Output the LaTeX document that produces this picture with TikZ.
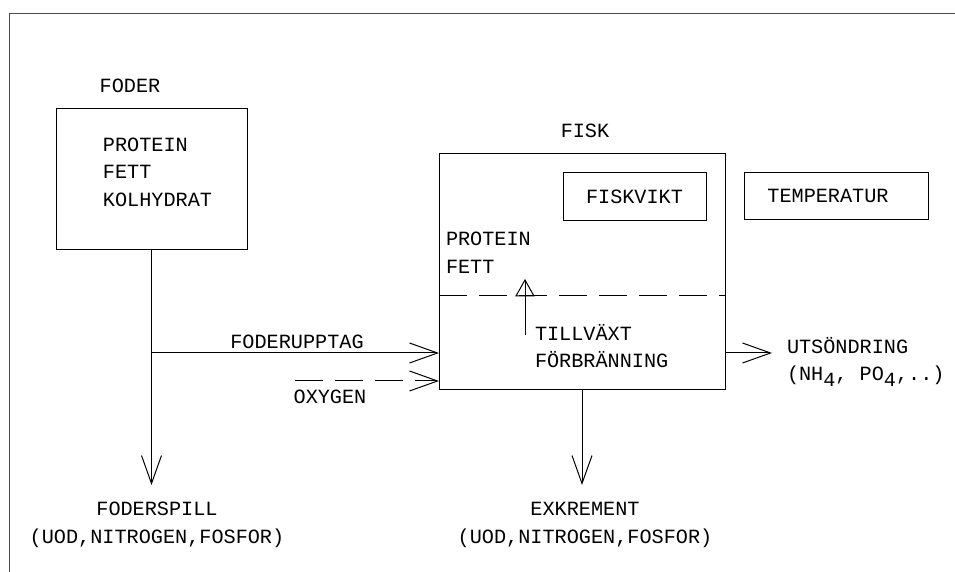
\documentclass[tikz,border=0pt]{standalone}
\usepackage{fontspec}
\newfontfamily\plotfont{Liberation Mono}
\usetikzlibrary{arrows.meta,calc}

\begin{document}
\begin{tikzpicture}[x=0.5pt,y=-0.5pt,line width=0.5pt,
    every node/.style={font=\plotfont\fontsize{10.1}{13.8}\selectfont,inner sep=0pt,outer sep=0pt},
    box/.style={draw,rectangle,anchor=north west},
    flow/.style={-{Straight Barb[length=14pt,width=10pt]}},
    dashline/.style={dash pattern=on 14pt off 6pt}]
    \useasboundingbox (0,0) rectangle (955,572);

    % frame of the plot sheet
    \draw[black!70] (9,572) -- (9,14) -- (955,14);

    % feed box
    \node at (130,86) {FODER};
    \node[box,minimum width=95.5pt,minimum height=70.5pt] (foder) at (56,109) {};
    \node[anchor=west,align=left] (foderlist) at (103,172) {PROTEIN\\FETT\\KOLHYDRAT};

    % fish box
    \node at (585,131) {FISK};
    \node[box,minimum width=143pt,minimum height=118pt] (fisk) at (439,154) {};
    \node[box,minimum width=71.5pt,minimum height=24pt] (vikt) at (563,173) {FISKVIKT};
    \node[box,minimum width=92pt,minimum height=23.5pt] (temp) at (744,173) {};
    \node (templabel) at (828,196) {TEMPERATUR};
    \node[anchor=west,align=left] (fisklist) at (446,253) {PROTEIN\\FETT};
    \node[anchor=west,align=left] (process) at (535,346) {TILLV\"AXT\\F\"ORBR\"ANNING};

    % split inside the fish
    \coordinate (split) at (439,296);
    \draw[dashline] (split) -- (split -| fisk.east);

    % growth arrow
    \coordinate (upfoot) at (525,335);
    \coordinate (uptip) at (525,280);
    \draw (upfoot) -- (uptip);
    \draw (uptip) -- ++(-9,16) -- ++(18,0) -- cycle;

    % feed flows
    \coordinate (branch) at (foder.south |- 0,353);
    \coordinate (spill) at (foder.south |- 0,485);
    \draw[flow] (foder.south) -- (spill);
    \draw[flow] (branch) -- (branch -| fisk.west);
    \node (upptag) at (297,342) {FODERUPPTAG};

    % oxygen
    \coordinate (oxstart) at (295,381);
    \draw[flow,dashline] (oxstart) -- (oxstart -| fisk.west);
    \node (oxygen) at (330,397) {OXYGEN};

    % outputs
    \coordinate (exkr) at (fisk.south |- 0,485);
    \draw[flow] (fisk.south) -- (exkr);
    \coordinate (uts) at (772,353);
    \draw[flow] (uts -| fisk.east) -- (uts);
    \node[anchor=west,align=left] (utsond) at (787,362) {UTS\"ONDRING\\(NH\raisebox{-0.55ex}{4}, PO\raisebox{-0.55ex}{4},..)};

    \node[align=center] (foderspill) at (157,525) {FODERSPILL\\(UOD,NITROGEN,FOSFOR)};
    \node[align=center] (exkrement) at (585,525) {EXKREMENT\\(UOD,NITROGEN,FOSFOR)};
\end{tikzpicture}
\end{document}
